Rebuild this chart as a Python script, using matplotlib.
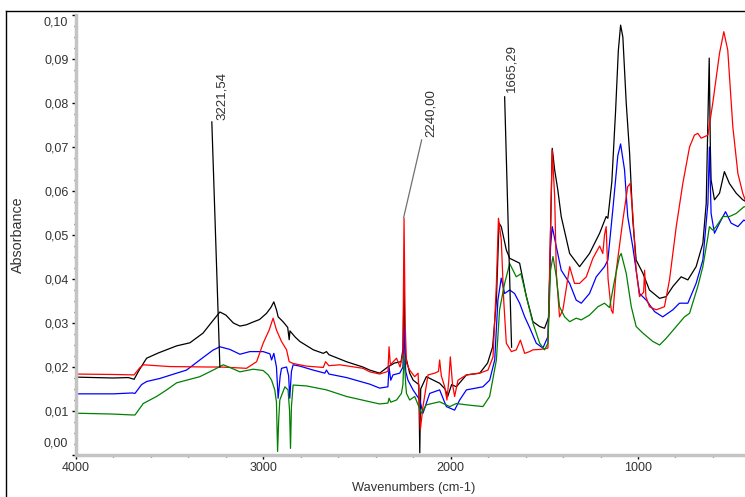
import matplotlib.pyplot as plt
from matplotlib.lines import Line2D
from matplotlib.ticker import MultipleLocator, FuncFormatter

plt.rcParams['font.family'] = ['Liberation Sans', 'DejaVu Sans']

# black spectrum (wavenumber, absorbance)
black_wn = [4000, 3900, 3800, 3720, 3690, 3660, 3623, 3560, 3463, 3392, 3322, 3270, 3232, 3200,
            3160, 3125, 3090, 3056, 3020, 2983, 2960, 2944, 2930, 2921, 2895, 2870, 2862, 2858,
            2830, 2805, 2733, 2680, 2663, 2650, 2556, 2469, 2432, 2379, 2336, 2300, 2265, 2255,
            2249, 2243, 2219, 2200, 2170, 2165, 2160, 2130, 2059, 2030, 2016, 1995, 1970, 1916,
            1845, 1803, 1776, 1756, 1742, 1730, 1703, 1685, 1632, 1596, 1561, 1525, 1499, 1476,
            1467, 1458, 1445, 1428, 1410, 1365, 1312, 1259, 1205, 1170, 1161, 1140, 1120, 1105,
            1093, 1081, 1063, 1045, 1028, 1010, 974, 939, 885, 850, 814, 770, 734, 690, 654, 636,
            627, 620, 614, 610, 592, 565, 539, 512, 476, 441, 420]
black_a = [0.0177, 0.0176, 0.0175, 0.0176, 0.0172, 0.0195, 0.0220, 0.0232, 0.0248, 0.0255, 0.0277,
           0.0305, 0.0325, 0.0318, 0.0300, 0.0293, 0.0296, 0.0302, 0.0308, 0.0322, 0.0335, 0.0348,
           0.0330, 0.0314, 0.0303, 0.0290, 0.0262, 0.0282, 0.0268, 0.0258, 0.0239, 0.0231, 0.0235,
           0.0228, 0.0212, 0.0200, 0.0193, 0.0186, 0.0200, 0.0209, 0.0212, 0.0240, 0.0386, 0.0230,
           0.0186, 0.0170, 0.0160, 0.0005, 0.0150, 0.0178, 0.0163, 0.0150, 0.0133, 0.0160, 0.0155,
           0.0182, 0.0186, 0.0209, 0.0246, 0.0352, 0.0527, 0.0519, 0.0466, 0.0447, 0.0436, 0.0360,
           0.0303, 0.0292, 0.0288, 0.0314, 0.0510, 0.0697, 0.0648, 0.0602, 0.0542, 0.0458, 0.0428,
           0.0458, 0.0504, 0.0542, 0.0538, 0.0620, 0.0780, 0.0920, 0.0977, 0.0950, 0.0800, 0.0686,
           0.0534, 0.0443, 0.0413, 0.0375, 0.0356, 0.0360, 0.0383, 0.0405, 0.0398, 0.0428, 0.0481,
           0.0572, 0.0761, 0.0902, 0.0700, 0.0625, 0.0580, 0.0595, 0.0644, 0.0617, 0.0595, 0.0580,
           0.0575]

# blue spectrum
blue_wn = [4000, 3800, 3700, 3685, 3650, 3623, 3552, 3463, 3410, 3339, 3270, 3232, 3179, 3125,
           3072, 3001, 2965, 2956, 2944, 2930, 2921, 2910, 2903, 2876, 2865, 2859, 2850, 2841,
           2805, 2734, 2672, 2663, 2650, 2556, 2432, 2379, 2335, 2329, 2320, 2308, 2272, 2255,
           2249, 2240, 2228, 2201, 2165, 2148, 2112, 2059, 2023, 1979, 1952, 1916, 1828, 1792,
           1765, 1748, 1730, 1712, 1685, 1659, 1632, 1605, 1579, 1543, 1508, 1481, 1467, 1458,
           1436, 1410, 1365, 1330, 1303, 1259, 1223, 1179, 1161, 1134, 1108, 1093, 1072, 1055,
           1028, 992, 956, 912, 868, 814, 779, 734, 690, 654, 627, 619, 610, 592, 565, 533, 503,
           467, 435, 420]
blue_a = [0.0139, 0.0139, 0.0141, 0.0140, 0.0160, 0.0167, 0.0174, 0.0186, 0.0193, 0.0216, 0.0238,
          0.0246, 0.0240, 0.0229, 0.0235, 0.0235, 0.0230, 0.0216, 0.0231, 0.0200, 0.0129, 0.0180,
          0.0197, 0.0200, 0.0180, 0.0129, 0.0190, 0.0205, 0.0202, 0.0193, 0.0186, 0.0193, 0.0184,
          0.0176, 0.0161, 0.0152, 0.0155, 0.0200, 0.0170, 0.0182, 0.0186, 0.0200, 0.0292, 0.0190,
          0.0170, 0.0148, 0.0125, 0.0095, 0.0140, 0.0148, 0.0110, 0.0102, 0.0125, 0.0148, 0.0155,
          0.0170, 0.0216, 0.0352, 0.0402, 0.0367, 0.0375, 0.0367, 0.0345, 0.0314, 0.0290, 0.0254,
          0.0243, 0.0269, 0.0473, 0.0519, 0.0473, 0.0420, 0.0390, 0.0352, 0.0345, 0.0367, 0.0405,
          0.0428, 0.0443, 0.0560, 0.0680, 0.0707, 0.0648, 0.0542, 0.0473, 0.0367, 0.0352, 0.0326,
          0.0314, 0.0330, 0.0345, 0.0345, 0.0390, 0.0443, 0.0572, 0.0700, 0.0549, 0.0504, 0.0527,
          0.0553, 0.0527, 0.0519, 0.0534, 0.0530]

# red spectrum
red_wn = [4000, 3800, 3690, 3660, 3640, 3500, 3300, 3232, 3179, 3090, 3036, 3001, 2969, 2948,
          2930, 2903, 2876, 2862, 2841, 2770, 2680, 2668, 2650, 2592, 2468, 2432, 2379, 2335,
          2329, 2322, 2289, 2270, 2255, 2249, 2243, 2236, 2219, 2192, 2174, 2162, 2148, 2121,
          2085, 2065, 2059, 2050, 2032, 2020, 2010, 2002, 1990, 1979, 1961, 1916, 1845, 1801,
          1774, 1756, 1745, 1730, 1717, 1703, 1676, 1650, 1628, 1605, 1579, 1561, 1520, 1481,
          1467, 1458, 1445, 1436, 1419, 1401, 1365, 1339, 1312, 1276, 1241, 1205, 1188, 1179,
          1170, 1160, 1143, 1134, 1116, 1081, 1055, 1042, 1028, 1010, 992, 970, 965, 958, 939,
          903, 859, 832, 796, 761, 725, 699, 681, 663, 627, 601, 565, 542, 521, 494, 467, 441,
          420]
red_a = [0.0184, 0.0183, 0.0182, 0.0198, 0.0205, 0.0201, 0.0200, 0.0200, 0.0199, 0.0197, 0.0212,
         0.0254, 0.0284, 0.0311, 0.0284, 0.0258, 0.0239, 0.0212, 0.0208, 0.0202, 0.0199, 0.0212,
         0.0203, 0.0205, 0.0197, 0.0189, 0.0184, 0.0190, 0.0246, 0.0205, 0.0220, 0.0200, 0.0230,
         0.0538, 0.0300, 0.0209, 0.0193, 0.0178, 0.0186, 0.0057, 0.0110, 0.0182, 0.0186, 0.0190,
         0.0216, 0.0180, 0.0155, 0.0125, 0.0170, 0.0223, 0.0160, 0.0133, 0.0170, 0.0182, 0.0186,
         0.0193, 0.0223, 0.0390, 0.0538, 0.0489, 0.0352, 0.0254, 0.0235, 0.0239, 0.0261, 0.0231,
         0.0235, 0.0239, 0.0240, 0.0243, 0.0510, 0.0693, 0.0587, 0.0413, 0.0314, 0.0330, 0.0428,
         0.0390, 0.0390, 0.0405, 0.0447, 0.0475, 0.0458, 0.0500, 0.0519, 0.0400, 0.0330, 0.0322,
         0.0420, 0.0534, 0.0610, 0.0617, 0.0549, 0.0420, 0.0360, 0.0370, 0.0420, 0.0360, 0.0337,
         0.0330, 0.0337, 0.0398, 0.0519, 0.0617, 0.0700, 0.0727, 0.0731, 0.0720, 0.0727, 0.0800,
         0.0913, 0.0962, 0.0920, 0.0746, 0.0640, 0.0595, 0.0570]

# green spectrum
green_wn = [4000, 3800, 3700, 3685, 3641, 3570, 3516, 3463, 3410, 3339, 3268, 3214, 3179, 3125,
            3054, 3001, 2974, 2956, 2939, 2930, 2924, 2918, 2912, 2885, 2868, 2860, 2855, 2850,
            2841, 2770, 2663, 2556, 2432, 2379, 2335, 2329, 2320, 2289, 2263, 2255, 2249, 2240,
            2236, 2219, 2192, 2156, 2130, 2059, 2005, 1970, 1916, 1828, 1792, 1756, 1739, 1712,
            1685, 1650, 1625, 1596, 1561, 1525, 1499, 1481, 1467, 1454, 1436, 1419, 1392, 1365,
            1330, 1303, 1259, 1214, 1179, 1152, 1125, 1099, 1090, 1063, 1036, 1010, 974, 921, 885,
            850, 796, 752, 725, 681, 654, 627, 619, 601, 583, 547, 512, 476, 435, 420]
green_a = [0.0095, 0.0093, 0.0091, 0.0091, 0.0117, 0.0133, 0.0148, 0.0164, 0.0170, 0.0178, 0.0193,
           0.0205, 0.0199, 0.0189, 0.0195, 0.0192, 0.0182, 0.0170, 0.0148, 0.0120, 0.0008, 0.0080,
           0.0125, 0.0155, 0.0148, 0.0100, 0.0015, 0.0110, 0.0159, 0.0157, 0.0148, 0.0133, 0.0121,
           0.0116, 0.0118, 0.0129, 0.0120, 0.0125, 0.0140, 0.0160, 0.0227, 0.0160, 0.0140, 0.0125,
           0.0133, 0.0095, 0.0114, 0.0121, 0.0110, 0.0117, 0.0114, 0.0110, 0.0133, 0.0216, 0.0330,
           0.0390, 0.0435, 0.0405, 0.0412, 0.0360, 0.0300, 0.0254, 0.0239, 0.0254, 0.0420, 0.0451,
           0.0405, 0.0337, 0.0314, 0.0303, 0.0311, 0.0307, 0.0318, 0.0337, 0.0345, 0.0335, 0.0398,
           0.0451, 0.0458, 0.0413, 0.0337, 0.0292, 0.0277, 0.0258, 0.0250, 0.0265, 0.0292, 0.0314,
           0.0322, 0.0383, 0.0428, 0.0496, 0.0519, 0.0511, 0.0519, 0.0542, 0.0542, 0.0549, 0.0564,
           0.0565]

# peak labels: text, label position, line top, line end
peak_labels = ['3221,54', '2240,00', '1665,29']
label_pos = [(3221, 0.0762), (2107, 0.0722), (1675, 0.0824)]
line_top = [(3275, 0.0757), (2155, 0.0716), (1712, 0.0814)]
line_end = [(3232, 0.0200), (2251, 0.0540), (1675, 0.0245)]

fig = plt.figure(figsize=(7.45, 4.97), dpi=100)
ax = fig.add_axes([76 / 745, 1 - 455 / 497, 669 / 745, 440 / 497])

ax.plot(black_wn, black_a, color='black', lw=0.9)
ax.plot(blue_wn, blue_a, color='#0000ff', lw=0.9)
ax.plot(red_wn, red_a, color='#ff0000', lw=0.9)
ax.plot(green_wn, green_a, color='#008000', lw=0.9)

line_colors = ['black', '#707070', 'black']
for txt, lp, lt, le, lc in zip(peak_labels, label_pos, line_top, line_end, line_colors):
    ax.plot([lt[0], le[0]], [lt[1], le[1]], color=lc, lw=0.9)
    ax.text(lp[0], lp[1], txt, rotation=90, ha='center', va='bottom',
            fontsize=9.5, color='#303030')

ax.set_xlim(4000, 429)
ax.set_ylim(0, 0.10)

ax.xaxis.set_major_locator(MultipleLocator(1000))
ax.xaxis.set_minor_locator(MultipleLocator(200))
ax.yaxis.set_major_locator(MultipleLocator(0.01))
ax.yaxis.set_minor_locator(MultipleLocator(0.0025))


def yfmt(v, pos):
    if abs(v) < 1e-6 or abs(v - 0.10) < 1e-6:
        return ''
    return ('%.2f' % v).replace('.', ',')


ax.yaxis.set_major_formatter(FuncFormatter(yfmt))
ax.xaxis.set_major_formatter(FuncFormatter(lambda v, p: '%d' % v))

# end labels are pulled inside the axis like in the original software
ax.text(-0.012, 0.0025, '0,00', transform=ax.get_yaxis_transform(), ha='right', va='center',
        fontsize=9, color='#333333')
ax.text(-0.012, 0.0982, '0,10', transform=ax.get_yaxis_transform(), ha='right', va='center',
        fontsize=9, color='#333333')

for s in ['top', 'right']:
    ax.spines[s].set_visible(False)
for s in ['left', 'bottom']:
    ax.spines[s].set_color('#c4c4c4')
    ax.spines[s].set_linewidth(2.5)

ax.tick_params(which='major', direction='out', length=3, width=1, color='black',
               labelsize=9, labelcolor='#333333', pad=2)
ax.tick_params(which='minor', direction='out', length=1.5, width=1, color='#333333')

ax.set_xlabel('Wavenumbers (cm-1)', fontsize=9.3, color='#333333')
ax.set_ylabel('Absorbance', fontsize=10.3, color='#333333')
ax.xaxis.set_label_coords(0.505, -0.062)
ax.yaxis.set_label_coords(-0.077, 0.5)

# outer frame
fig.add_artist(Line2D([6 / 745, 6 / 745], [0, 1 - 11 / 497], color='black', lw=1))
fig.add_artist(Line2D([6 / 745, 1], [1 - 11 / 497, 1 - 11 / 497], color='black', lw=1))

fig.savefig('out.png', dpi=100)
